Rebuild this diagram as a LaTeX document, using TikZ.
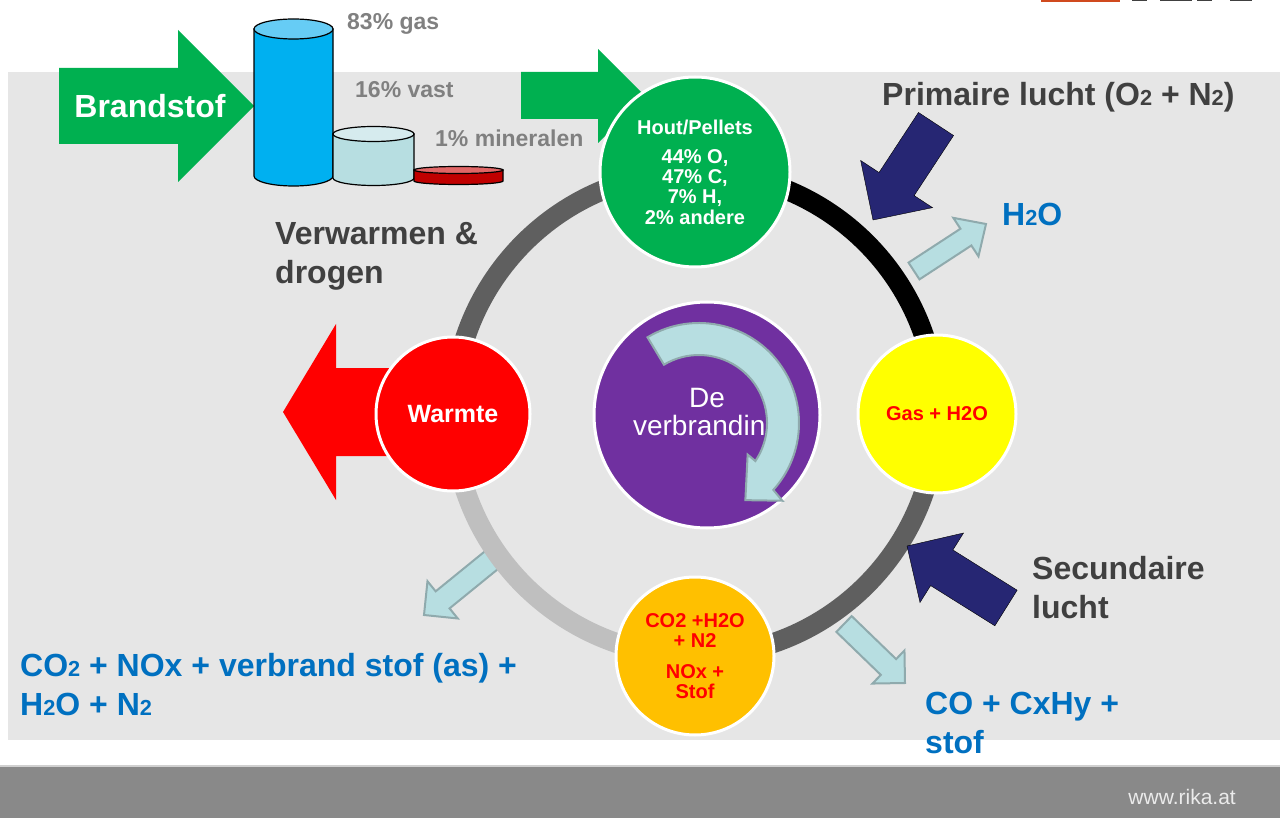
\documentclass[tikz,border=0pt]{standalone}
\usepackage{fontspec}
\setmainfont{Liberation Sans}
\usetikzlibrary{calc}

\definecolor{panelgrey}{HTML}{E6E6E6}
\definecolor{footgrey}{HTML}{898989}
\definecolor{darktext}{HTML}{404040}
\definecolor{softgrey}{HTML}{808080}
\definecolor{chemblue}{HTML}{0070C0}
\definecolor{navyarrow}{HTML}{262673}
\definecolor{fuelgreen}{HTML}{00B050}
\definecolor{heatred}{HTML}{FF0000}
\definecolor{gasyellow}{HTML}{FFFF00}
\definecolor{fluegold}{HTML}{FFC000}
\definecolor{burnpurple}{HTML}{7030A0}
\definecolor{tealfill}{HTML}{B7DEE1}
\definecolor{tealedge}{HTML}{8FAAAD}
\definecolor{ringdark}{HTML}{5F5F5F}
\definecolor{ringlight}{HTML}{BFBFBF}
\definecolor{logoorange}{HTML}{D04A1E}
\definecolor{gasblue}{HTML}{00B0F0}
\definecolor{gaslid}{HTML}{66CCF5}
\definecolor{solidlid}{HTML}{D6EBEE}
\definecolor{minred}{HTML}{C00000}
\definecolor{minlid}{HTML}{E06666}

\tikzset{
  ball/.style={circle, draw=white, line width=3pt, inner sep=0pt, align=center},
  ringseg/.style={line width=20pt},
  tealarrow/.style={fill=tealfill, draw=tealedge, line width=2pt},
  navyfill/.style={fill=navyarrow},
  biglabel/.style={font=\fontsize{32}{39}\selectfont\bfseries, inner sep=0pt, align=left},
  pctlabel/.style={font=\fontsize{23}{27}\selectfont\bfseries, text=softgrey, inner sep=0pt, anchor=base west},
  smalltext/.style={font=\fontsize{20}{20.3}\selectfont\bfseries}
}

\newcommand{\chemsub}[1]{\scalebox{0.68}{#1}}
% tail, tip, half shaft, half head, head length (all in px)
\newcommand{\blockarrow}[6]{%
  \coordinate (ba) at ($(#3)!#6pt!(#2)$);
  \draw[#1] ($(#2)!#4pt!90:(#3)$) -- ($(ba)!#4pt!-90:(#2)$) -- ($(ba)!#5pt!-90:(#2)$) -- (#3)
    -- ($(ba)!#5pt!90:(#2)$) -- ($(ba)!#4pt!90:(#2)$) -- ($(#2)!#4pt!-90:(#3)$) -- cycle;}
% cx, top y, bottom y, rx, ry, body, lid
\newcommand{\drum}[7]{%
  \draw[fill=#6, line width=1.2pt] (#1-#4,#2) -- (#1-#4,#3) arc[start angle=180, end angle=0, x radius=#4, y radius=#5] -- (#1+#4,#2) -- cycle;
  \draw[fill=#7, line width=1.2pt] (#1,#2) ellipse[x radius=#4, y radius=#5];}

\begin{document}
\begin{tikzpicture}[x=1pt, y=-1pt]
  \useasboundingbox (0,0) rectangle (1280,818);
  \fill[white] (0,0) rectangle (1280,818);

  % logo remains, panel and footer
  \fill[logoorange] (1041,0) rectangle (1120,2);
  \fill[darktext] (1132,0) rectangle (1147,1.5);
  \fill[darktext] (1160,0) rectangle (1192,1.5);
  \fill[darktext] (1197,0) rectangle (1212,1.5);
  \fill[darktext] (1230,0) rectangle (1252,1.5);
  \fill[panelgrey] (8,72) rectangle (1280,740);
  \fill[footgrey] (0,765) rectangle (1280,818);
  \draw[white!60!footgrey, line width=2pt] (0,766) -- (1280,766);
  \node[font=\fontsize{21}{25}\selectfont, text=white!92!black, anchor=base east, inner sep=0pt] (site) at (1236,804) {www.rika.at};

  % fuel input
  \draw[fill=fuelgreen, draw=none] (59,68) -- (178,68) -- (178,30) -- (254,106) -- (178,182) -- (178,144) -- (59,144) -- cycle;
  \node[biglabel, text=white] (fuel) at (150,106) {Brandstof};
  \drum{293.5}{29}{176}{39.5}{10}{gasblue}{gaslid}
  \drum{373.5}{134}{178}{40.5}{7.5}{tealfill}{solidlid}
  \drum{458.5}{170}{181}{44.5}{3.5}{minred}{minlid}
  \node[pctlabel] (gaspct) at (347,30) {83\% gas};
  \node[pctlabel] (solidpct) at (355,98) {16\% vast};
  \node[pctlabel] (minpct) at (435,147) {1\% mineralen};

  % circle positions on the ring
  \coordinate (p-hout) at (695,172);
  \coordinate (p-gas) at (937,414);
  \coordinate (p-flue) at (695,656);
  \coordinate (p-heat) at (453,414);

  % arrows behind the circles
  \fill[fuelgreen] (521,72) -- (598,72) -- (598,49) -- (645,96) -- (598,143) -- (598,119) -- (521,119) -- cycle;
  \fill[heatred] (283,412) -- (336,324) -- (336,368) -- (420,368) -- (420,456) -- (336,456) -- (336,500) -- cycle;
  \blockarrow{tealarrow}{914,271}{986,224}{10}{23}{24}
  \blockarrow{tealarrow}{844,624}{905,683}{11}{23}{23}
  \blockarrow{tealarrow}{499,554}{424,615}{11}{24}{24}

  % the ring
  \draw[ringseg, black] (p-hout) arc[start angle=-90, end angle=0, radius=242];
  \draw[ringseg, ringdark] (p-gas) arc[start angle=0, end angle=90, radius=242];
  \draw[ringseg, ringlight] (p-flue) arc[start angle=90, end angle=180, radius=242];
  \draw[ringseg, ringdark] (p-heat) arc[start angle=180, end angle=270, radius=242];

  \node[ball, fill=fuelgreen, minimum size=190pt, text=white, smalltext] (hout) at (p-hout)
    {Hout/Pellets\\[9pt]44\% O,\\47\% C,\\7\% H,\\2\% andere};
  \node[ball, fill=gasyellow, minimum size=158pt, text=heatred, smalltext] (gas) at (p-gas) {Gas + H2O};
  \node[ball, fill=fluegold, minimum size=158pt, text=heatred, smalltext] (flue) at (p-flue)
    {CO2 +H2O\\+ N2\\[10pt]NOx +\\Stof};
  \node[ball, fill=heatred, minimum size=154pt, text=white, font=\fontsize{25}{30}\selectfont\bfseries] (heat) at (p-heat) {Warmte};
  \node[ball, fill=burnpurple, minimum size=226pt, text=white, font=\fontsize{28}{28}\selectfont] (burn) at (707,415) {De\\verbranding};

  % swirl on the middle circle
  \coordinate (swirl) at (699,423);
  \draw[tealarrow] ($(swirl)+(-121:100)$) arc[start angle=-121, end angle=42, radius=100]
    -- ($(swirl)+(43:114)$) -- ($(swirl)+(59:90)$) -- ($(swirl)+(33:58)$) -- ($(swirl)+(34:68)$)
    arc[start angle=34, end angle=-121, radius=68] -- cycle;

  % air supply
  \blockarrow{navyfill}{936,124}{873,220}{21}{43}{43}
  \blockarrow{navyfill}{1006,608}{907,546}{21}{41}{41}

  % labels
  \node[biglabel, text=darktext, anchor=west] (heating) at (275,256) {Verwarmen \&\\drogen};
  \node[biglabel, text=darktext, anchor=base west] (primary) at (882,106) {Primaire lucht (O\chemsub{2} + N\chemsub{2})};
  \node[biglabel, text=chemblue, anchor=base west] (steam) at (1002,226) {H\chemsub{2}O};
  \node[biglabel, text=darktext, anchor=west] (secondary) at (1032,588) {Secundaire\\lucht};
  \node[biglabel, text=chemblue, anchor=west] (co) at (925,723) {CO + CxHy +\\stof};
  \node[biglabel, text=chemblue, anchor=west] (exhaust) at (20,685) {CO\chemsub{2} + NOx + verbrand stof (as) +\\H\chemsub{2}O + N\chemsub{2}};
\end{tikzpicture}
\end{document}
